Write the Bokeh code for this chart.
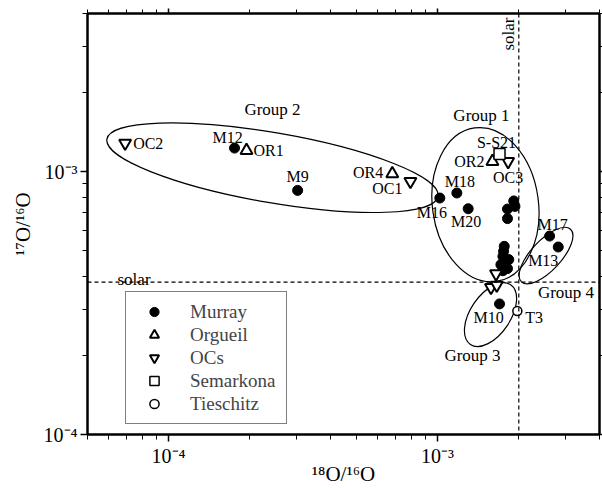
import math
from bokeh.plotting import figure
from bokeh.models import (LogAxis, FixedTicker, CustomJSTickFormatter, Span,
                          Legend, LegendItem)
from bokeh.core.properties import value
from bokeh.embed import file_html
from bokeh.resources import INLINE

# ---------------- data ----------------
murray_x = [1.76e-4, 3.02e-4, 1.02e-3, 1.18e-3, 1.30e-3, 1.92e-3, 1.94e-3, 1.82e-3, 1.82e-3,
            1.77e-3, 1.76e-3, 1.75e-3, 1.84e-3, 1.72e-3, 1.82e-3, 1.75e-3, 2.61e-3, 2.81e-3, 1.70e-3]
murray_y = [1.23e-3, 8.49e-4, 7.94e-4, 8.30e-4, 7.23e-4, 7.74e-4, 7.38e-4, 7.21e-4, 6.63e-4,
            5.20e-4, 4.98e-4, 4.76e-4, 4.63e-4, 4.43e-4, 4.28e-4, 4.20e-4, 5.69e-4, 5.17e-4, 3.14e-4]
murray_names = ["M12", "M9", "M16", "M18", "M20", "", "", "", "",
                "", "", "", "", "", "", "", "M17", "M13", "M10"]

orgueil_x = [1.95e-4, 6.79e-4, 1.60e-3]
orgueil_y = [1.205e-3, 9.83e-4, 1.094e-3]
orgueil_names = ["OR1", "OR4", "OR2"]

ocs_x = [6.90e-5, 7.93e-4, 1.83e-3, 1.58e-3, 1.66e-3, 1.65e-3]
ocs_y = [1.285e-3, 9.19e-4, 1.094e-3, 3.63e-4, 3.70e-4, 4.09e-4]
ocs_names = ["OC2", "OC1", "OC3", "", "", ""]

semarkona_x = [1.70e-3]
semarkona_y = [1.168e-3]
semarkona_names = ["S-S21"]

tieschitz_x = [1.98e-3]
tieschitz_y = [2.95e-4]
tieschitz_names = ["T3"]

group_names = ["Group 1", "Group 2", "Group 3", "Group 4"]
group_cx = [1.507e-3, 2.435e-4, 1.574e-3, 2.531e-3]
group_cy = [7.49e-4, 1.036e-3, 2.859e-4, 4.795e-4]

solar_18 = 2.005e-3
solar_17 = 3.80e-4

x_range = (5e-5, 4e-3)
y_range = (1e-4, 4e-3)
x_major = [1e-4, 1e-3]
x_minor = [m * 1e-5 for m in range(5, 10)] + [m * 1e-4 for m in range(2, 10)] + [m * 1e-3 for m in range(2, 5)]
y_major = [1e-4, 1e-3]
y_minor = [m * 1e-4 for m in range(2, 10)] + [m * 1e-3 for m in range(2, 5)]

x_title = "\u00b9\u2078O/\u00b9\u2076O"   # 18O/16O
y_title = "\u00b9\u2077O/\u00b9\u2076O"   # 17O/16O

legend_names = ["Murray", "Orgueil", "OCs", "Semarkona", "Tieschitz"]

# ---------------- layout / style ----------------
W, H = 602, 488
FL, FR, FT, FB = 87, 599, 13, 434
SERIF = "Liberation Serif"

# ellipse sizes in screen pixels (width, height, angle in degrees)
group_w = [106, 336, 40, 72]
group_h = [155, 70, 72, 30]
group_a = [8, -9.8, -34, 47]
group_label_off = [(-4, -89), (0, -58), (-18, 41), (20, 37)]

# point label offsets: (dx, dy (down +), align)
label_off = {
    "OC2": (8, 0, "left"), "M12": (-7, -11, "center"), "OR1": (7, 0, "left"),
    "M9": (0, -14, "center"), "OR4": (-9, -1, "right"), "OC1": (-8, 7, "right"),
    "M16": (-8, 14, "center"), "M18": (3, -11, "center"), "M20": (-2, 13, "center"),
    "S-S21": (-3, -11, "center"), "OR2": (-8, 0, "right"), "OC3": (0, 16, "center"),
    "M17": (3, -12, "center"), "M13": (-15, 13, "center"), "M10": (-11, 14, "center"),
    "T3": (8, 6, "left"),
}

ly0, ly1 = math.log10(y_range[0]), math.log10(y_range[1])
lx0, lx1 = math.log10(x_range[0]), math.log10(x_range[1])


def px2x(px):
    return 10 ** (lx0 + (px - FL) / (FR - FL) * (lx1 - lx0))


def py2y(py):
    return 10 ** (ly0 + (FB - py) / (FB - FT) * (ly1 - ly0))


p = figure(width=W, height=H, x_axis_type="log", y_axis_type="log",
           x_range=x_range, y_range=y_range, output_backend="svg", toolbar_location=None,
           min_border_left=FL, min_border_right=W - FR, min_border_top=FT, min_border_bottom=H - FB)
p.grid.visible = False
p.background_fill_color = "white"
p.border_fill_color = "white"
p.outline_line_color = "black"
p.outline_line_width = 2

SUP_FMT = """
const sup = {"-": "\\u207b", "0": "\\u2070", "1": "\\u00b9", "2": "\\u00b2", "3": "\\u00b3",
             "4": "\\u2074", "5": "\\u2075", "6": "\\u2076", "7": "\\u2077", "8": "\\u2078", "9": "\\u2079"};
const e = Math.round(Math.log10(tick));
return "10" + String(e).split("").map(c => sup[c]).join("");
"""


def style_axis(ax, major, minor, labelled):
    ax.ticker = FixedTicker(ticks=major, minor_ticks=minor)
    ax.axis_line_color = "black"
    ax.axis_line_width = 2
    ax.major_tick_out = 7
    ax.major_tick_in = 0
    ax.minor_tick_out = 5
    ax.minor_tick_in = 0
    ax.major_tick_line_width = 1.5
    ax.minor_tick_line_width = 1
    if labelled:
        ax.formatter = CustomJSTickFormatter(code=SUP_FMT)
        ax.major_label_text_font = SERIF
        ax.major_label_text_font_size = "20px"
        ax.major_label_text_color = "black"
        ax.major_label_standoff = 3
        ax.axis_label_text_font = SERIF
        ax.axis_label_text_font_style = "normal"
        ax.axis_label_text_font_size = "21px"
        ax.axis_label_text_color = "black"
        ax.axis_label_standoff = 0
    else:
        ax.formatter = CustomJSTickFormatter(code="return ''")
        ax.major_label_standoff = 0
        ax.major_label_text_font_size = "0px"
        ax.axis_label = None


style_axis(p.xaxis[0], x_major, x_minor, True)
style_axis(p.yaxis[0], y_major, y_minor, True)
p.xaxis[0].axis_label = x_title
p.xaxis[0].axis_label_standoff = -8
p.yaxis[0].axis_label = y_title
p.yaxis[0].axis_label_standoff = 6

top = LogAxis()
style_axis(top, x_major, x_minor, False)
top.major_tick_out = 5
top.minor_tick_out = 4
p.add_layout(top, "above")
right = LogAxis()
style_axis(right, y_major, y_minor, False)
right.major_tick_out = 3
right.minor_tick_out = 3
p.add_layout(right, "right")

# group ellipses
p.ellipse(x=group_cx, y=group_cy, width=group_w, height=group_h, angle=group_a,
          angle_units="deg", width_units="screen", height_units="screen",
          fill_color=None, line_color="black", line_width=1.2)
p.text(x=group_cx, y=group_cy, text=group_names,
       x_offset=[o[0] for o in group_label_off], y_offset=[o[1] for o in group_label_off],
       text_align="center", text_baseline="middle", text_font=value(SERIF),
       text_font_size="17px", text_color="black")

# solar lines
p.add_layout(Span(location=solar_18, dimension="height", line_color="black",
                  line_dash="4 3", line_width=1.2))
p.add_layout(Span(location=solar_17, dimension="width", line_color="black",
                  line_dash="4 3", line_width=1.2))
p.text(x=[px2x(508)], y=[py2y(33.5)], text=["solar"], angle=math.pi / 2,
       text_align="center", text_baseline="middle", text_font=value(SERIF),
       text_font_size="17px")
p.text(x=[px2x(117)], y=[solar_17], text=["solar"], y_offset=-3,
       text_align="left", text_baseline="alphabetic", text_font=value(SERIF),
       text_font_size="17px")

# data markers
r_murray = p.scatter(murray_x, murray_y, marker="circle", size=10,
                     fill_color="black", line_color="black")
r_org = p.scatter(orgueil_x, orgueil_y, marker="triangle", size=12,
                  fill_color="white", line_color="black", line_width=2)
r_ocs = p.scatter(ocs_x, ocs_y, marker="inverted_triangle", size=12,
                  fill_color="white", line_color="black", line_width=2)
r_sem = p.scatter(semarkona_x, semarkona_y, marker="square", size=11,
                  fill_color="white", line_color="black", line_width=1.5)
r_tie = p.scatter(tieschitz_x, tieschitz_y, marker="circle", size=9,
                  fill_color="white", line_color="black", line_width=1.5)

# point labels
for xs, ys, names in [(murray_x, murray_y, murray_names), (orgueil_x, orgueil_y, orgueil_names),
                      (ocs_x, ocs_y, ocs_names), (semarkona_x, semarkona_y, semarkona_names),
                      (tieschitz_x, tieschitz_y, tieschitz_names)]:
    for x, y, n in zip(xs, ys, names):
        if not n:
            continue
        dx, dy, al = label_off[n]
        p.text(x=[x], y=[y], text=[n], x_offset=dx, y_offset=dy, text_align=al,
               text_baseline="middle", text_font=value(SERIF), text_font_size="16px",
               text_color="black")

# legend
legend = Legend(items=[LegendItem(label=n, renderers=[r]) for n, r in
                       zip(legend_names, [r_murray, r_org, r_ocs, r_sem, r_tie])],
                location=(125 - FL, FB - 424))
legend.label_text_font = SERIF
legend.label_text_font_size = "19px"
legend.glyph_width = 40
legend.glyph_height = 23
legend.label_height = 23
legend.label_width = 88
legend.label_standoff = 16
legend.spacing = 0
legend.padding = 8
legend.margin = 0
legend.border_line_color = "black"
legend.border_line_width = 1
legend.background_fill_color = "white"
legend.background_fill_alpha = 1
p.add_layout(legend)

open("out.html", "w").write(file_html(p, INLINE))
